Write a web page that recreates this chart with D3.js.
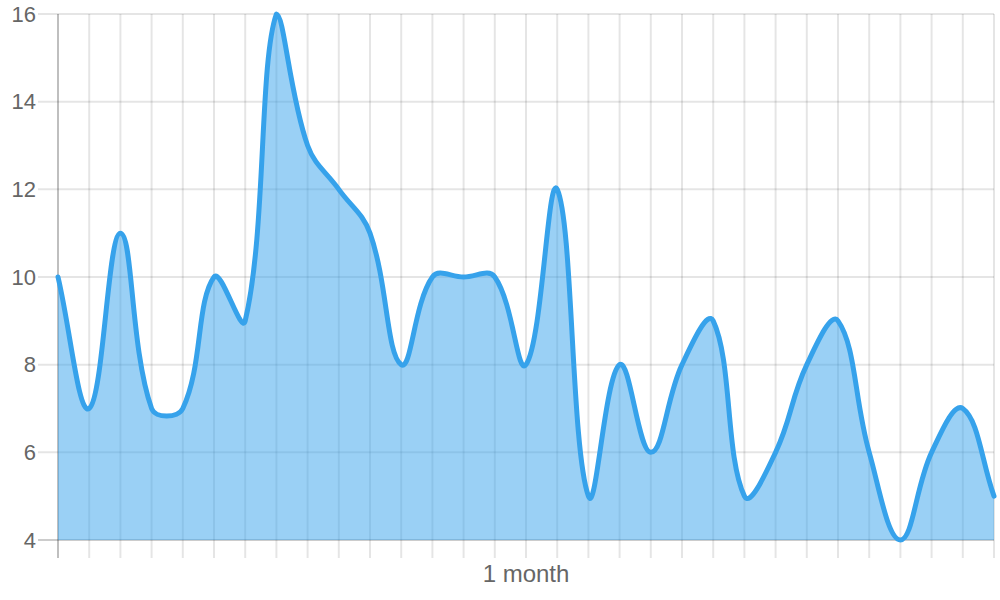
<!DOCTYPE html>
<html>
<head>
<meta charset="utf-8">
<script src="https://cdn.jsdelivr.net/npm/d3@7"></script>
<style>
html,body{margin:0;padding:0;background:#fff;}
svg{display:block;}
text{font-family:"Liberation Sans", Arial, Helvetica, sans-serif;}
</style>
</head>
<body>
<svg id="chart" width="1000" height="600"></svg>
<script>
const values = [10, 7, 11, 7, 7, 10, 9, 16, 13, 12, 11, 8, 10, 10, 10, 8, 12, 5, 8, 6, 8, 9, 5, 6, 8, 9, 6, 4, 6, 7, 5];
const yTicks = [4, 6, 8, 10, 12, 14, 16];
const xLabel = "1 month";
const xLabelIndex = 15;

(function () {
const svg = d3.select("#chart");
const pLeft = 58, pRight = 994, pTop = 14, pBottom = 540;

const x = d3.scaleLinear().domain([0, values.length - 1]).range([pLeft, pRight]);
const y = d3.scaleLinear().domain([4, 16]).range([pBottom, pTop]);

const g = svg.append("g");
values.forEach((v, i) => {
  g.append("line")
    .attr("x1", x(i)).attr("x2", x(i))
    .attr("y1", pTop).attr("y2", pBottom + 18)
    .attr("stroke", i === 0 ? "rgba(0,0,0,0.25)" : "rgba(0,0,0,0.1)")
    .attr("stroke-width", 2);
});
yTicks.forEach(t => {
  g.append("line")
    .attr("x1", pLeft - 20).attr("x2", pRight)
    .attr("y1", y(t)).attr("y2", y(t))
    .attr("stroke", t === 4 ? "rgba(0,0,0,0.2)" : "rgba(0,0,0,0.1)")
    .attr("stroke-width", 2);
  svg.append("text")
    .attr("x", pLeft - 22).attr("y", y(t)).attr("dy", "0.35em")
    .attr("text-anchor", "end")
    .attr("font-size", 22).attr("fill", "#666")
    .text(t);
});
svg.append("text")
  .attr("x", x(xLabelIndex)).attr("y", 582)
  .attr("text-anchor", "middle")
  .attr("font-size", 24).attr("fill", "#666")
  .text(xLabel);

const pts = values.map((v, i) => ({x: x(i), y: y(v)}));
const tension = 0.4;
const clampX = v => Math.max(pLeft, Math.min(pRight, v));
const clampY = v => Math.max(pTop, Math.min(pBottom, v));
pts.forEach((p, i) => {
  const prev = i > 0 ? pts[i - 1] : p;
  const next = i < pts.length - 1 ? pts[i + 1] : p;
  const d01 = Math.hypot(p.x - prev.x, p.y - prev.y);
  const d12 = Math.hypot(next.x - p.x, next.y - p.y);
  let s01 = d01 / (d01 + d12), s12 = d12 / (d01 + d12);
  if (isNaN(s01)) s01 = 0;
  if (isNaN(s12)) s12 = 0;
  const fa = tension * s01, fb = tension * s12;
  p.cp1x = clampX(p.x - fa * (next.x - prev.x));
  p.cp1y = clampY(p.y - fa * (next.y - prev.y));
  p.cp2x = clampX(p.x + fb * (next.x - prev.x));
  p.cp2y = clampY(p.y + fb * (next.y - prev.y));
});
function linePath(path) {
  path.moveTo(pts[0].x, pts[0].y);
  for (let i = 1; i < pts.length; i++) {
    const a = pts[i - 1], b = pts[i];
    path.bezierCurveTo(a.cp2x, a.cp2y, b.cp1x, b.cp1y, b.x, b.y);
  }
  return path;
}
const area = linePath(d3.path());
area.lineTo(pts[pts.length - 1].x, y(4));
area.lineTo(pts[0].x, y(4));
area.closePath();
svg.append("path").attr("d", area.toString())
  .attr("fill", "rgba(54,162,235,0.5)");
svg.append("path").attr("d", linePath(d3.path()).toString())
  .attr("fill", "none").attr("stroke", "rgb(54,162,235)")
  .attr("stroke-width", 5).attr("stroke-linejoin", "round").attr("stroke-linecap", "round");
})();
</script>
</body>
</html>
